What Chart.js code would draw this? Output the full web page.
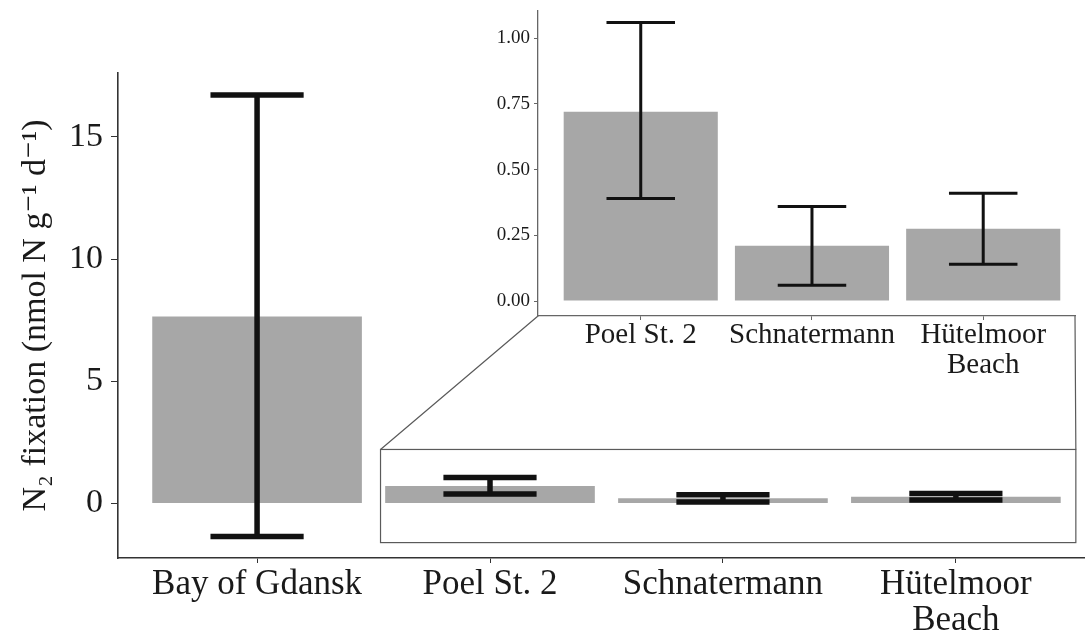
<!DOCTYPE html>
<html>
<head>
<meta charset="utf-8">
<script src="https://cdn.jsdelivr.net/npm/chart.js@4.4.1/dist/chart.umd.min.js"></script>
<style>
  html, body { margin: 0; padding: 0; background: #ffffff; }
  #wrap { position: relative; width: 1085px; height: 639px; overflow: hidden; }
  #main { position: absolute; left: 0; top: 0; }
  #inset { position: absolute; left: 440px; top: -5px; }
</style>
</head>
<body>
<div id="wrap">
  <canvas id="main" width="1085" height="639"></canvas>
  <canvas id="inset" width="645" height="405"></canvas>
</div>
<script>
// Sites and N2 fixation rates (nmol N g^-1 d^-1): mean with lower / upper error limits
const sites = ['Bay of Gdansk', 'Poel St. 2', 'Schnatermann', ['Hütelmoor', 'Beach']];
const meanRate = [7.65, 0.72, 0.21, 0.275];
const lowerRate = [-1.35, 0.39, 0.06, 0.14];
const upperRate = [16.71, 1.06, 0.36, 0.41];

// Main axis ticks and the magnified inset's ticks
const mainTicks = [0, 5, 10, 15];
const insetTicks = [0, 0.25, 0.5, 0.75, 1.0];

// The inset shows the coastal sites only
const insetSites = sites.slice(1);
const insetMean = meanRate.slice(1);
const insetLower = lowerRate.slice(1);
const insetUpper = upperRate.slice(1);

// Region of the main plot that the inset enlarges (x in site index units, y in data units)
const zoomRegion = { x0: 0.53, x1: 3.515, y0: -1.6, y1: 2.21 };

const SERIF = "'Liberation Serif', 'Times New Roman', 'DejaVu Serif', serif";
const BAR = '#a7a7a7';
const INK = '#1a1a1a';

function errorBars(lo, hi, lineWidth, capHalf) {
  return {
    id: 'errorBars',
    afterDatasetsDraw(chart) {
      const { ctx, scales: { x, y } } = chart;
      ctx.save();
      ctx.strokeStyle = '#111111';
      ctx.lineWidth = lineWidth;
      ctx.lineCap = 'butt';
      lo.forEach((l, i) => {
        const cx = x.getPixelForValue(i);
        const half = x.getPixelForValue(i + capHalf) - cx;
        const yl = y.getPixelForValue(l);
        const yh = y.getPixelForValue(hi[i]);
        ctx.beginPath();
        ctx.moveTo(cx, yl); ctx.lineTo(cx, yh);
        ctx.moveTo(cx - half, yl); ctx.lineTo(cx + half, yl);
        ctx.moveTo(cx - half, yh); ctx.lineTo(cx + half, yh);
        ctx.stroke();
      });
      ctx.restore();
    }
  };
}

function siteAxis(min, max, labels, fontSize, height, tickLen, pad, axisColor, axisWidth) {
  return {
    type: 'linear', min, max, offset: false,
    afterBuildTicks: s => { s.ticks = labels.map((_, i) => ({ value: i })); },
    afterFit: s => { s.height = height; },
    ticks: {
      callback: v => labels[v],
      color: INK, padding: pad, maxRotation: 0, autoSkip: false,
      font: { family: SERIF, size: fontSize, lineHeight: 1.05 }
    },
    grid: { drawOnChartArea: false, offset: false, tickLength: tickLen, color: axisColor, lineWidth: 1 },
    border: { color: axisColor, width: axisWidth }
  };
}

// Inset: enlarged view of the three coastal sites
const insetChart = new Chart(document.getElementById('inset'), {
  type: 'bar',
  data: {
    datasets: [{
      data: insetMean.map((v, i) => ({ x: i, y: v })),
      backgroundColor: BAR, borderWidth: 0,
      barPercentage: 0.9, categoryPercentage: 1.0
    }]
  },
  options: {
    responsive: false, animation: false, devicePixelRatio: 1,
    layout: { padding: { top: 10, left: 0, right: 10, bottom: 0 } },
    plugins: { legend: { display: false }, tooltip: { enabled: false } },
    scales: {
      x: siteAxis(-0.6, 2.536, insetSites, 29, 84, 4, 0, '#666666', 1.3),
      y: {
        min: -0.057, max: 1.106,
        afterBuildTicks: s => { s.ticks = insetTicks.map(v => ({ value: v })); },
        afterFit: s => { s.width = 98; },
        ticks: { callback: v => v.toFixed(2), color: INK, padding: 4, font: { family: SERIF, size: 19 } },
        grid: { drawOnChartArea: false, tickLength: 4, color: '#666666', lineWidth: 1 },
        border: { color: '#666666', width: 1.3 }
      }
    }
  },
  plugins: [errorBars(insetLower, insetUpper, 3, 0.2)]
});

// Frame around the enlarged region plus the connector lines to the inset axes
const zoomFrame = {
  id: 'zoomFrame',
  afterDatasetsDraw(chart) {
    const { ctx, scales: { x, y } } = chart;
    const left = x.getPixelForValue(zoomRegion.x0);
    const right = x.getPixelForValue(zoomRegion.x1);
    const top = y.getPixelForValue(zoomRegion.y1);
    const bottom = y.getPixelForValue(zoomRegion.y0);
    const insetCanvas = insetChart.canvas;
    const ia = insetChart.chartArea;
    const ox = insetCanvas.offsetLeft, oy = insetCanvas.offsetTop;
    ctx.save();
    ctx.strokeStyle = '#5a5a5a';
    ctx.lineWidth = 1.2;
    ctx.strokeRect(left, top, right - left, bottom - top);
    ctx.beginPath();
    ctx.moveTo(left, top); ctx.lineTo(ox + ia.left, oy + ia.bottom);
    ctx.moveTo(right, top); ctx.lineTo(ox + ia.right, oy + ia.bottom);
    ctx.stroke();
    ctx.restore();
  }
};

// Main plot: all four sites on a common scale
new Chart(document.getElementById('main'), {
  type: 'bar',
  data: {
    datasets: [{
      data: meanRate.map((v, i) => ({ x: i, y: v })),
      backgroundColor: BAR, borderWidth: 0,
      barPercentage: 0.9, categoryPercentage: 1.0
    }]
  },
  options: {
    responsive: false, animation: false, devicePixelRatio: 1,
    layout: { padding: { top: 73, left: 0, right: 1, bottom: 0 } },
    plugins: { legend: { display: false }, tooltip: { enabled: false } },
    scales: {
      x: siteAxis(-0.597, 3.55, sites, 35, 81, 5, 3, '#333333', 1.6),
      y: {
        min: -2.23, max: 17.61,
        afterBuildTicks: s => { s.ticks = mainTicks.map(v => ({ value: v })); },
        afterFit: s => { s.width = 118; },
        ticks: { color: INK, padding: 8, font: { family: SERIF, size: 34 } },
        grid: { drawOnChartArea: false, tickLength: 7, color: '#333333', lineWidth: 1 },
        border: { color: '#333333', width: 1.6 },
        title: {
          display: true, text: 'N₂ fixation (nmol N g⁻¹ d⁻¹)', color: INK,
          font: { family: SERIF, size: 34 }, padding: { top: 16, bottom: 0 }
        }
      }
    }
  },
  plugins: [zoomFrame, errorBars(lowerRate, upperRate, 5.5, 0.2)]
});
</script>
</body>
</html>
